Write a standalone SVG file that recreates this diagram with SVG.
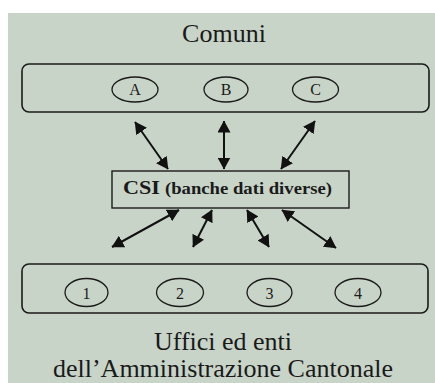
<svg xmlns="http://www.w3.org/2000/svg" width="435" height="383" viewBox="0 0 435 383">
  <style>
    .panel { fill: #c9d4c9; }
    .group { fill: none; stroke: #1a1a1a; stroke-width: 1.6; }
    .box { fill: none; stroke: #1a1a1a; stroke-width: 1.4; }
    .oval { fill: none; stroke: #1a1a1a; stroke-width: 1.3; }
    .title { font-family: "Liberation Serif", "Times New Roman", serif; font-size: 26px; fill: #1a1a1a; text-anchor: middle; }
    .lbl { font-family: "Liberation Serif", "Times New Roman", serif; font-size: 16px; fill: #1a1a1a; text-anchor: middle; }
    .csi { font-family: "Liberation Serif", "Times New Roman", serif; font-weight: bold; fill: #1a1a1a; }
    .link { stroke: #111; stroke-width: 2; fill: none; marker-start: url(#head); marker-end: url(#head); }
  </style>
  <defs>
    <marker id="head" viewBox="0 0 12 13" refX="11.5" refY="6.5" markerWidth="6" markerHeight="6.5" orient="auto-start-reverse">
      <path d="M0,0 L12,6.5 L0,13 Z" fill="#111"/>
    </marker>
  </defs>

  <rect class="panel" x="8" y="13" width="427" height="370"/>

  <g id="comuni">
    <text class="title" x="224" y="42">Comuni</text>
    <rect class="group" x="22" y="64" width="407" height="48" rx="7"/>
    <g id="comune-a">
      <ellipse class="oval" cx="135" cy="89.5" rx="23" ry="12.5"/>
      <text class="lbl" x="135" y="95">A</text>
    </g>
    <g id="comune-b">
      <ellipse class="oval" cx="226" cy="89.5" rx="22" ry="12.5"/>
      <text class="lbl" x="226" y="95">B</text>
    </g>
    <g id="comune-c">
      <ellipse class="oval" cx="315.5" cy="89.5" rx="23" ry="12.5"/>
      <text class="lbl" x="315.5" y="95">C</text>
    </g>
  </g>

  <g id="csi">
    <rect class="box" x="112" y="171" width="237" height="37"/>
    <text class="csi" x="123" y="194" font-size="19" textLength="37" lengthAdjust="spacingAndGlyphs">CSI</text>
    <text class="csi" x="165" y="194" font-size="16" textLength="167" lengthAdjust="spacingAndGlyphs">(banche dati diverse)</text>
  </g>

  <g id="uffici">
    <rect class="group" x="22" y="264" width="406" height="49" rx="7"/>
    <g id="ufficio-1">
      <ellipse class="oval" cx="86.5" cy="292.5" rx="21.5" ry="14"/>
      <text class="lbl" x="86.5" y="298.5">1</text>
    </g>
    <g id="ufficio-2">
      <ellipse class="oval" cx="180" cy="292.5" rx="23.5" ry="14"/>
      <text class="lbl" x="180" y="298.5">2</text>
    </g>
    <g id="ufficio-3">
      <ellipse class="oval" cx="269.5" cy="292.5" rx="22.5" ry="14"/>
      <text class="lbl" x="269.5" y="298.5">3</text>
    </g>
    <g id="ufficio-4">
      <ellipse class="oval" cx="358" cy="292.5" rx="23" ry="14"/>
      <text class="lbl" x="358" y="298.5">4</text>
    </g>
    <text class="title" x="223" y="350">Uffici ed enti</text>
    <text class="title" x="223" y="377">dell’Amministrazione Cantonale</text>
  </g>

  <g id="connectors">
    <line class="link" x1="135" y1="122" x2="168" y2="169"/>
    <line class="link" x1="224" y1="121" x2="224" y2="169"/>
    <line class="link" x1="315" y1="121" x2="281" y2="169"/>
    <line class="link" x1="179" y1="210" x2="112" y2="247"/>
    <line class="link" x1="212" y1="210" x2="193" y2="247"/>
    <line class="link" x1="247" y1="210" x2="269" y2="247"/>
    <line class="link" x1="282" y1="210" x2="336" y2="248"/>
  </g>
</svg>
